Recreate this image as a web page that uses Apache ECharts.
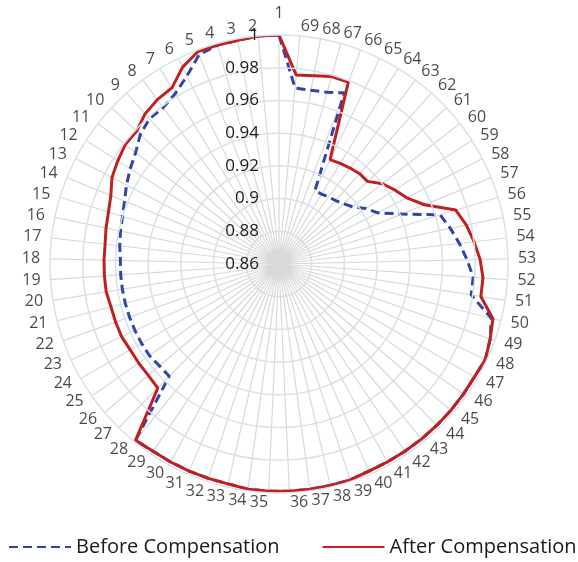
<!DOCTYPE html>
<html>
<head>
<meta charset="utf-8">
<script src="https://cdn.jsdelivr.net/npm/echarts@6/dist/echarts.min.js"></script>
<style>
html,body{margin:0;padding:0;background:#fff;}
#chart{width:578px;height:562px;}
</style>
</head>
<body>
<div id="chart"></div>
<script>
const categories = ['1','2','3','4','5','6','7','8','9','10','11','12','13','14','15','16','17','18','19','20',
  '21','22','23','24','25','26','27','28','29','30','31','32','33','34','35','36','37','38','39','40',
  '41','42','43','44','45','46','47','48','49','50','51','52','53','54','55','56','57','58','59','60',
  '61','62','63','64','65','66','67','68','69'];

const beforeComp = [
  1.000, 1.000, 0.999, 0.999, 0.997, 0.988, 0.982, 0.979, 0.979, 0.976,
  0.971, 0.968, 0.965, 0.962, 0.960, 0.959, 0.958, 0.957, 0.957, 0.957,
  0.957, 0.957, 0.957, 0.957, 0.957, 0.956, 0.956, 0.999, 0.998, 0.998,
  0.998, 0.998, 0.998, 0.999, 0.999, 0.999, 0.999, 0.999, 0.999, 0.998,
  0.998, 0.998, 0.998, 0.998, 0.998, 0.998, 0.998, 0.999, 0.997, 0.994,
  0.979, 0.979, 0.975, 0.971, 0.967, 0.963, 0.941, 0.928, 0.923, 0.917,
  0.914, 0.912, 0.911, 0.910, 0.910, 0.972, 0.969, 0.968, 0.968
];

const afterComp = [
  1.000, 1.000, 0.999, 0.999, 0.999, 0.994, 0.986, 0.985, 0.983, 0.979,
  0.979, 0.977, 0.975, 0.971, 0.969, 0.968, 0.967, 0.967, 0.967, 0.967,
  0.966, 0.966, 0.966, 0.965, 0.965, 0.965, 0.966, 0.999, 0.998, 0.998,
  0.998, 0.998, 0.998, 0.999, 0.999, 0.999, 0.999, 0.999, 0.999, 0.998,
  0.998, 0.998, 0.998, 0.998, 0.998, 0.998, 0.998, 0.999, 0.997, 0.995,
  0.985, 0.985, 0.983, 0.980, 0.977, 0.973, 0.956, 0.948, 0.944, 0.940,
  0.934, 0.934, 0.933, 0.932, 0.931, 0.979, 0.979, 0.977, 0.976
];

const radialMin = 0.86, radialMax = 1.0, radialStep = 0.02;
const seriesNames = ['Before Compensation', 'After Compensation'];

function toPolar(values) {
  const d = values.map((v, i) => [v, i]);
  d.push([values[0], values.length]); // close the loop
  return d;
}

const N = categories.length;
const START = 90;
// category name labels placed just outside the outer ring (Excel-like alignment)
const nameLabels = categories.map((c, i) => {
  const a = (START + i * 360 / N) * Math.PI / 180;
  const cs = Math.cos(a);
  const top = Math.abs(cs) < 0.01;
  return {
    value: [1, i], name: c,
    label: {
      align: top ? 'center' : (cs > 0 ? 'left' : 'right'),
      verticalAlign: top ? 'bottom' : 'middle',
      padding: top ? [0, 0, 4, 0] : 0
    }
  };
});

const chart = echarts.init(document.getElementById('chart'));
const font = 'Open Sans';
const txt = '#1a1a1a';
chart.setOption({
  animation: false,
  backgroundColor: '#fff',
  polar: [
    { center: [279, 264], radius: 229 },
    { center: [279, 264], radius: 239 }
  ],
  angleAxis: [
    {
      polarIndex: 0, type: 'value', min: 0, max: N, interval: 1,
      startAngle: START, clockwise: false,
      axisLine: { show: false }, axisTick: { show: false }, axisLabel: { show: false },
      splitLine: { show: true, lineStyle: { color: '#d9d9d9', width: 1.2 } }
    },
    {
      polarIndex: 1, type: 'value', min: 0, max: N, interval: 1,
      startAngle: START, clockwise: false, show: false
    }
  ],
  radiusAxis: [
    {
      polarIndex: 0, type: 'value', min: radialMin, max: radialMax, interval: radialStep,
      axisLine: { show: false }, axisTick: { show: false },
      splitLine: { show: true, lineStyle: { color: '#d6e0ee', width: 1.5 } },
      axisLabel: {
        margin: 20, fontSize: 17, fontFamily: font, color: txt,
        formatter: v => String(+(+v).toFixed(2))
      },
      z: 10
    },
    { polarIndex: 1, type: 'value', min: 0, max: 1, show: false }
  ],
  legend: {
    left: 8, top: 537, width: 570, padding: 0,
    itemWidth: 62, itemHeight: 14, itemGap: 42,
    data: seriesNames,
    itemStyle: { opacity: 0 },
    textStyle: { fontSize: 20, fontFamily: font, color: txt }
  },
  series: [
    {
      name: seriesNames[0], type: 'line', coordinateSystem: 'polar', polarIndex: 0,
      data: toPolar(beforeComp), symbol: 'none', showSymbol: false,
      lineStyle: { color: '#2f45a8', width: 3, type: [9, 5] },
      itemStyle: { color: '#2f45a8' }, z: 3
    },
    {
      name: seriesNames[1], type: 'line', coordinateSystem: 'polar', polarIndex: 0,
      data: toPolar(afterComp), symbol: 'none', showSymbol: false,
      lineStyle: { color: '#c0211f', width: 3 },
      itemStyle: { color: '#c0211f' }, z: 4
    },
    {
      name: 'categoryNames', type: 'scatter', coordinateSystem: 'polar', polarIndex: 1,
      data: nameLabels, symbol: 'circle', symbolSize: 0.1, silent: true,
      itemStyle: { color: 'rgba(0,0,0,0)' },
      label: {
        show: true, position: 'inside', formatter: '{b}',
        fontSize: 16, fontFamily: font, color: txt
      },
      z: 5
    }
  ]
});
</script>
</body>
</html>
